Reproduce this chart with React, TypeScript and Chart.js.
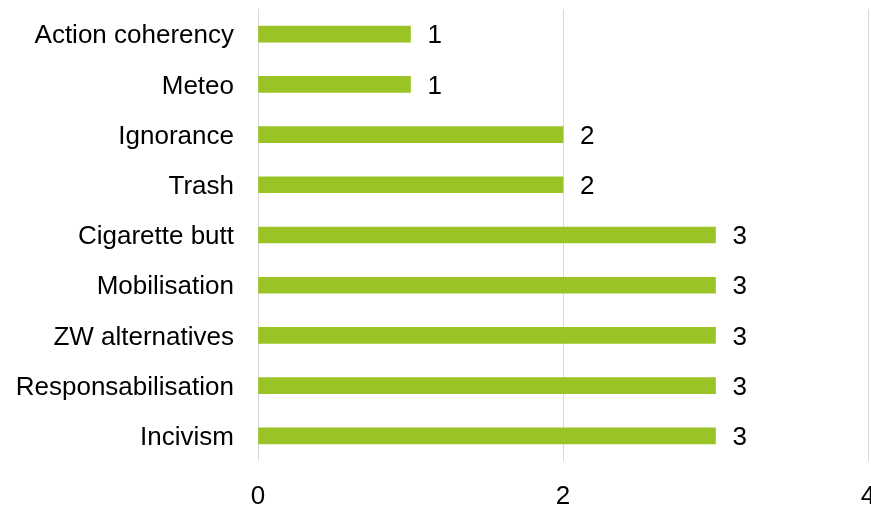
import React, { useEffect, useRef } from "react";
import { Chart, registerables } from "chart.js";

Chart.register(...registerables);

const categories = [
  "Action coherency",
  "Meteo",
  "Ignorance",
  "Trash",
  "Cigarette butt",
  "Mobilisation",
  "ZW alternatives",
  "Responsabilisation",
  "Incivism",
];
const values = [1, 1, 2, 2, 3, 3, 3, 3, 3];
const xTicks = [0, 2, 4];

const FONT = "'Liberation Sans', Arial, sans-serif";

const valueLabels = {
  id: "valueLabels",
  afterDatasetsDraw(chart: any) {
    const ctx = chart.ctx;
    const meta = chart.getDatasetMeta(0);
    ctx.save();
    ctx.font = `26px ${FONT}`;
    ctx.fillStyle = "#000000";
    ctx.textAlign = "left";
    ctx.textBaseline = "middle";
    meta.data.forEach((bar: any, i: number) => {
      ctx.fillText(String(values[i]), bar.x + 17, bar.y + 2);
    });
    ctx.restore();
  },
};

export default function App() {
  const ref = useRef<HTMLCanvasElement | null>(null);
  useEffect(() => {
    if (!ref.current) return;
    const chart = new Chart(ref.current, {
      type: "bar",
      data: {
        labels: categories,
        datasets: [
          {
            data: values,
            backgroundColor: "#9AC326",
            borderWidth: 0,
            barThickness: 16,
          },
        ],
      },
      plugins: [valueLabels],
      options: {
        indexAxis: "y",
        animation: false,
        responsive: true,
        maintainAspectRatio: false,
        layout: { padding: { top: 9, right: 3, left: 0, bottom: 0 } },
        plugins: {
          legend: { display: false },
          tooltip: { enabled: false },
        },
        scales: {
          x: {
            min: 0,
            max: 4,
            afterBuildTicks: (scale: any) => {
              scale.ticks = xTicks.map((v) => ({ value: v }));
            },
            afterFit: (scale: any) => {
              scale.height = 44;
              scale.paddingLeft = 0;
              scale.paddingRight = 0;
              scale.paddingTop = 0;
              scale.paddingBottom = 0;
            },
            grid: { color: "#D9D9D9", lineWidth: 1, drawTicks: false },
            border: { display: false },
            ticks: {
              padding: 20,
              color: "#000000",
              font: { family: FONT, size: 26 },
              maxRotation: 0,
            },
          },
          y: {
            afterFit: (scale: any) => {
              scale.width = 258;
              scale.paddingTop = 0;
              scale.paddingBottom = 0;
              scale.paddingLeft = 0;
              scale.paddingRight = 0;
            },
            grid: { display: false, drawTicks: false },
            border: { display: false },
            ticks: {
              padding: 24,
              labelOffset: 2,
              color: "#000000",
              font: { family: FONT, size: 26 },
            },
          },
        },
      },
    });
    return () => chart.destroy();
  }, []);
  return (
    <div style={{ position: "fixed", left: 0, top: 0, width: 871, height: 505, background: "#fff" }}>
      <canvas ref={ref} />
    </div>
  );
}
